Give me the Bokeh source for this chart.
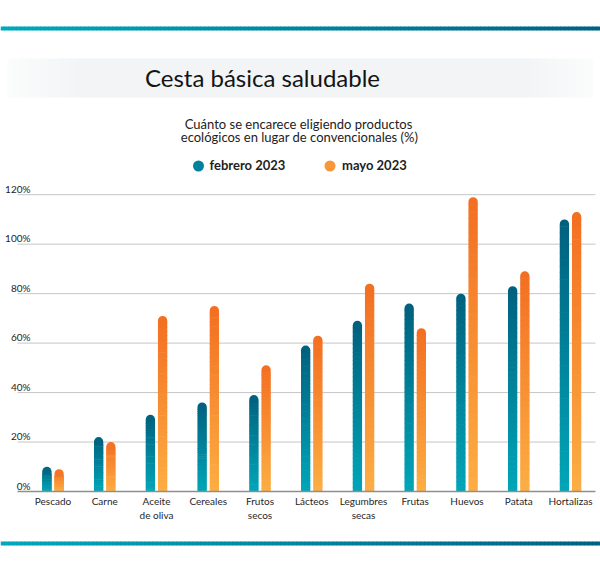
import numpy as np
from bokeh.plotting import figure
from bokeh.models import Range1d, LinearAxis, FixedTicker, PrintfTickFormatter, ColumnDataSource
from bokeh.core.properties import value
from bokeh.embed import file_html
from bokeh.resources import INLINE

# ---- data -------------------------------------------------------------
categories = ["Pescado", "Carne", "Aceite\nde oliva", "Cereales", "Frutos\nsecos",
              "Lácteos", "Legumbres\nsecas", "Frutas", "Huevos", "Patata", "Hortalizas"]
feb_2023 = [10, 22, 31, 36, 39, 59, 69, 76, 80, 83, 110]
may_2023 = [9, 20, 71, 75, 51, 63, 84, 66, 119, 89, 113]
y_ticks = [0, 20, 40, 60, 80, 100, 120]
series_names = ["febrero 2023", "mayo 2023"]

title_text = "Cesta básica saludable"
subtitle_lines = ["Cuánto se encarece eligiendo productos",
                  "ecológicos en lugar de convencionales (%)"]

# ---- styling ----------------------------------------------------------
FONT = "Lato"
TEAL_TOP, TEAL_BOTTOM = "#00607e", "#00a6b8"
ORANGE_TOP, ORANGE_BOTTOM = "#f36e21", "#fcae43"
STRIP_LEFT, STRIP_RIGHT = "#00a8ba", "#006282"
W, H = 600, 570

# category slot geometry (pixels) and value scale
SLOT_PX = 51.75
FIRST_PX = 52.5
BASE_PX = 491.0
PX_PER_UNIT = 296.8 / 120


def hex2rgb(c):
    c = c.lstrip("#")
    return np.array([int(c[i:i + 2], 16) for i in (0, 2, 4)], dtype=float)


def mix(c1, c2, t):
    a, b = hex2rgb(c1), hex2rgb(c2)
    r = a + (b - a) * t
    return "#%02x%02x%02x" % tuple(int(round(v)) for v in r)


x_range = Range1d(-FIRST_PX / SLOT_PX, (W - FIRST_PX) / SLOT_PX)
y_range = Range1d(-(H - BASE_PX) / PX_PER_UNIT, BASE_PX / PX_PER_UNIT)

p = figure(width=W, height=H, x_range=x_range, y_range=y_range, title=None,
           output_backend="svg", toolbar_location=None, y_axis_location=None,
           min_border=0, min_border_left=0, min_border_right=0,
           min_border_top=0, min_border_bottom=0, outline_line_color=None)
p.grid.visible = False

# page coordinates for the decorative header and footer
p.extra_x_ranges = {"page_x": Range1d(0, W)}
p.extra_y_ranges = {"page_y": Range1d(H, 0)}
PG = dict(x_range_name="page_x", y_range_name="page_y")

# gradient strips at top and bottom
sx = np.arange(0, W, 4.0)
strip_cols = [mix(STRIP_LEFT, STRIP_RIGHT, x / W) for x in sx]
for y0, y1 in ((26, 30), (541, 545)):
    p.quad(left=sx, right=sx + 4.6, top=y0, bottom=y1, fill_color=strip_cols,
           line_color=None, **PG)

# soft band behind the title
bx = np.arange(7, 593, 4.0)
band_cols = [mix("#fbfcfc", "#f2f4f6", min((x - 7) / 70.0, (593 - x) / 70.0, 1.0)) for x in bx]
p.quad(left=bx, right=np.minimum(bx + 4.6, 593), top=58, bottom=97,
       fill_color=band_cols, line_color=None, **PG)

p.text(x=[262], y=[77], text=[title_text], text_font=value(FONT), text_font_size="24px",
       text_align="center", text_baseline="alphabetic", text_color="#141414", **PG)
p.text(x=[298, 299], y=[123, 136.5], text=subtitle_lines, text_font=value(FONT),
       text_font_size="13px", text_align="center", text_baseline="alphabetic",
       text_color="#222222", **PG)

# legend
p.scatter(x=[198, 329.5], y=[165.5, 165.5], size=11, marker="circle",
          fill_color=["#00829d", "#f8963a"], line_color=None, **PG)
p.text(x=[209, 341.5], y=[164.5, 164.5], text=series_names, text_font=value(FONT),
       text_font_size="13px", text_font_style="bold", text_align="left",
       text_baseline="alphabetic", text_color="#1e1e1e", **PG)

# ---- chart ------------------------------------------------------------
PLOT_X0 = (17 - FIRST_PX) / SLOT_PX
PLOT_X1 = (595 - FIRST_PX) / SLOT_PX

# horizontal gridlines
grid_vals = [t for t in y_ticks if t > 0]
p.segment(x0=PLOT_X0, x1=PLOT_X1, y0=grid_vals, y1=grid_vals,
          line_color="#c6c6c6", line_width=1)

# y tick labels sit just above their gridlines
lift = 6 / PX_PER_UNIT
p.extra_y_ranges["ticklabels"] = Range1d(y_range.start - lift, y_range.end - lift)
yax = LinearAxis(y_range_name="ticklabels", ticker=FixedTicker(ticks=y_ticks),
                 formatter=PrintfTickFormatter(format="%d%%"),
                 fixed_location=(31 - FIRST_PX) / SLOT_PX,
                 axis_line_color=None, major_tick_line_color=None, minor_tick_line_color=None,
                 major_tick_out=0, major_tick_in=0, minor_tick_out=0, minor_tick_in=0,
                 major_label_standoff=1, major_label_text_font=FONT,
                 major_label_text_font_size="10px", major_label_text_color="#1e1e1e")
p.add_layout(yax, "left")

xax = p.xaxis[0]
xax.fixed_location = 0
xax.bounds = (PLOT_X0, PLOT_X1)
xax.ticker = FixedTicker(ticks=list(range(len(categories))))
xax.major_label_overrides = {i: c for i, c in enumerate(categories)}
xax.axis_line_color = "#8e8e8e"
xax.axis_line_width = 1.6
xax.major_tick_line_color = None
xax.minor_tick_line_color = None
xax.major_tick_out = 0
xax.major_tick_in = 0
xax.major_label_standoff = 3
xax.major_label_text_font = FONT
xax.major_label_text_font_size = "10px"
xax.major_label_text_color = "#262626"

BAR_W = 0.18
OFFSET = 0.118
N_SEG = 40
CAP = 3.0


def draw_series(vals, shift, c_bottom, c_top):
    body = dict(x=[], bottom=[], top=[], color=[])
    cap = dict(x=[], bottom=[], top=[], color=[])
    for i, v in enumerate(vals):
        x = i + shift
        h = v - CAP
        for k in range(N_SEG):
            body["x"].append(x)
            body["bottom"].append(h * k / N_SEG)
            body["top"].append(h * (k + 1) / N_SEG + 0.25)
            body["color"].append(mix(c_bottom, c_top, (h * (k + 0.5) / N_SEG) / v))
        cap["x"].append(x)
        cap["bottom"].append(h)
        cap["top"].append(v)
        cap["color"].append(mix(c_bottom, c_top, (h + CAP * 0.6) / v))
    p.vbar(x="x", bottom="bottom", top="top", width=BAR_W, fill_color="color",
           line_color=None, source=ColumnDataSource(body))
    p.vbar(x="x", bottom="bottom", top="top", width=BAR_W, fill_color="color",
           line_color=None, border_radius=(5, 5, 0, 0), source=ColumnDataSource(cap))


draw_series(feb_2023, -OFFSET, TEAL_BOTTOM, TEAL_TOP)
draw_series(may_2023, OFFSET, ORANGE_BOTTOM, ORANGE_TOP)

open("out.html", "w").write(file_html(p, INLINE))
